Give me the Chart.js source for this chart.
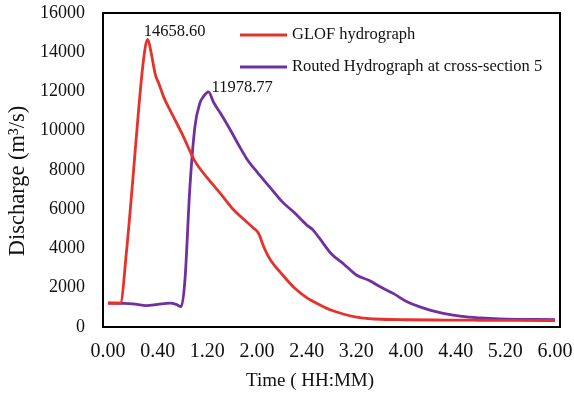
<!DOCTYPE html>
<html>
<head>
<meta charset="utf-8">
<script src="https://cdn.jsdelivr.net/npm/chart.js@4"></script>
<style>
  html, body { margin: 0; padding: 0; background: #fff; }
  #wrap { width: 574px; height: 395px; position: relative; }
</style>
</head>
<body>
<div id="wrap"><canvas id="chart"></canvas></div>
<script>
// time in minutes, discharge in m3/s
const glofTime = [0, 10, 15, 20, 25, 29, 32, 35, 38, 41, 45, 50, 60, 70, 80, 90, 100, 110, 117, 121, 126, 131, 140, 150, 160, 170, 180, 190, 200, 210, 220, 240, 270, 300, 330, 360];
const glofFlow = [1200, 1210, 3900, 7500, 11300, 13800, 14658.60, 13900, 12900, 12400, 11700, 11050, 9800, 8450, 7600, 6850, 6050, 5450, 5050, 4800, 4000, 3400, 2700, 2000, 1500, 1150, 850, 650, 500, 430, 395, 370, 355, 345, 335, 330];

const routedTime = [0, 10, 20, 31, 40, 50, 55, 59, 62, 66, 70, 74, 77, 81, 85, 90, 98, 105, 112, 120, 130, 140, 150, 160, 165, 170, 180, 190, 200, 210, 220, 230, 240, 250, 260, 270, 285, 300, 315, 330, 345, 360];
const routedFlow = [1230, 1210, 1180, 1090, 1150, 1220, 1150, 1040, 2400, 7150, 10200, 11400, 11750, 11978.77, 11450, 10950, 10100, 9300, 8550, 7900, 7150, 6400, 5830, 5200, 4950, 4550, 3720, 3200, 2650, 2380, 2020, 1700, 1310, 1050, 850, 700, 540, 460, 410, 390, 385, 380];

const tickMinutes = [0, 40, 80, 120, 160, 200, 240, 280, 320, 360];
const tickLabels = ['0.00', '0.40', '1.20', '2.00', '2.40', '3.20', '4.00', '4.40', '5.20', '6.00'];
const yTicks = [0, 2000, 4000, 6000, 8000, 10000, 12000, 14000, 16000];

const seriesNames = ['GLOF hydrograph', 'Routed Hydrograph at cross-section 5'];
const peakLabels = ['14658.60', '11978.77'];
const xTitle = 'Time ( HH:MM)';
const yTitle = 'Discharge (m³/s)';

const FONT = "'Liberation Serif', 'Times New Roman', serif";
const RED = '#e5322a';
const PURPLE = '#7030a0';

const toPoints = (xs, ys) => xs.map((x, i) => ({ x, y: ys[i] }));

// box around plot area + axis titles
const frame = {
  id: 'frame',
  afterDraw(chart) {
    const { ctx, chartArea: a } = chart;
    ctx.save();
    ctx.strokeStyle = '#000';
    ctx.lineWidth = 2;
    ctx.strokeRect(a.left, a.top, a.right - a.left, a.bottom - a.top);
    ctx.fillStyle = '#111';
    ctx.textAlign = 'center';
    ctx.textBaseline = 'middle';
    ctx.font = '19px ' + FONT;
    ctx.fillText(xTitle, 310, 381);
    ctx.translate(18, 181);
    ctx.rotate(-Math.PI / 2);
    ctx.font = '22.5px ' + FONT;
    ctx.fillText(yTitle, 0, 0);
    ctx.restore();
  }
};

// legend in the top right of the plot
const legendBox = {
  id: 'legendBox',
  afterDraw(chart) {
    const { ctx } = chart;
    ctx.save();
    ctx.font = '16.5px ' + FONT;
    ctx.textBaseline = 'middle';
    ctx.fillStyle = '#111';
    chart.data.datasets.forEach((ds, i) => {
      const y = 35 + i * 32;
      ctx.strokeStyle = ds.borderColor;
      ctx.lineWidth = 3;
      ctx.beginPath();
      ctx.moveTo(240, y);
      ctx.lineTo(287, y);
      ctx.stroke();
      ctx.fillText(ds.label, 292, y);
    });
    ctx.restore();
  }
};

// peak value labels
const peakText = {
  id: 'peakText',
  afterDatasetsDraw(chart) {
    const { ctx } = chart;
    const offs = [[-4, -8], [3, -4]];
    ctx.save();
    ctx.font = '16.5px ' + FONT;
    ctx.fillStyle = '#111';
    ctx.textBaseline = 'middle';
    chart.data.datasets.forEach((ds, i) => {
      const ys = ds.data.map(p => p.y);
      const k = ys.indexOf(Math.max(...ys));
      const pt = chart.getDatasetMeta(i).data[k];
      ctx.fillText(peakLabels[i], pt.x + offs[i][0], pt.y + offs[i][1]);
    });
    ctx.restore();
  }
};

new Chart(document.getElementById('chart'), {
  type: 'line',
  data: {
    datasets: [
      {
        label: seriesNames[0],
        data: toPoints(glofTime, glofFlow),
        borderColor: RED,
        borderWidth: 2.8,
        pointRadius: 0,
        cubicInterpolationMode: 'monotone'
      },
      {
        label: seriesNames[1],
        data: toPoints(routedTime, routedFlow),
        borderColor: PURPLE,
        borderWidth: 2.8,
        pointRadius: 0,
        cubicInterpolationMode: 'monotone'
      }
    ]
  },
  options: {
    responsive: true,
    maintainAspectRatio: false,
    animation: false,
    layout: { padding: { top: 13, right: 14, left: 0, bottom: 0 } },
    plugins: { legend: { display: false }, tooltip: { enabled: false } },
    scales: {
      x: {
        type: 'linear',
        min: -4,
        max: 364,
        afterBuildTicks: s => { s.ticks = tickMinutes.map(v => ({ value: v })); },
        afterFit: s => { s.height = 68; s.paddingLeft = 0; s.paddingRight = 0; },
        grid: { display: false, drawTicks: false },
        border: { display: false },
        ticks: {
          color: '#111',
          font: { family: FONT, size: 20 },
          padding: 13,
          maxRotation: 0,
          autoSkip: false,
          callback: v => tickLabels[tickMinutes.indexOf(v)]
        }
      },
      y: {
        min: 0,
        max: 16000,
        afterBuildTicks: s => { s.ticks = yTicks.map(v => ({ value: v })); },
        afterFit: s => { s.width = 103; s.paddingTop = 0; s.paddingBottom = 0; },
        grid: { display: false, drawTicks: false },
        border: { display: false },
        ticks: {
          color: '#111',
          font: { family: FONT, size: 18 },
          padding: 18,
          callback: v => String(v)
        }
      }
    }
  },
  plugins: [frame, legendBox, peakText]
});
</script>
</body>
</html>
